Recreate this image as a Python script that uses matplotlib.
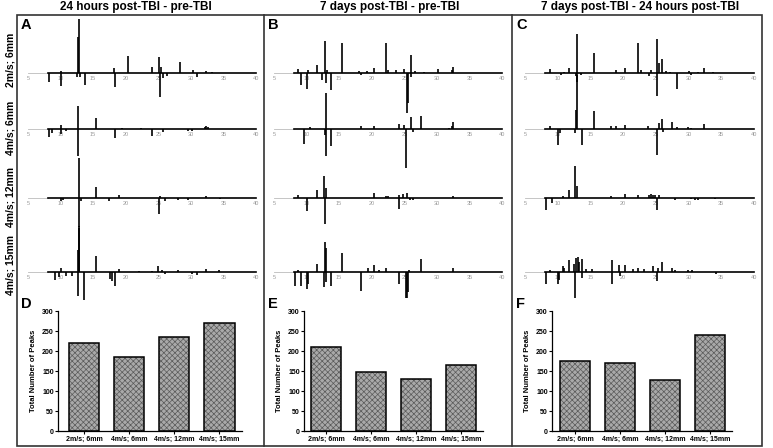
import matplotlib
matplotlib.use("Agg")
import matplotlib.pyplot as plt
from matplotlib.patches import Rectangle

plt.rcParams['font.family'] = ['Liberation Sans', 'DejaVu Sans']
plt.rcParams['hatch.linewidth'] = 0.5

# --- data ---------------------------------------------------------------
col_titles = ['24 hours post-TBI - pre-TBI', '7 days post-TBI - pre-TBI',
              '7 days post-TBI - 24 hours post-TBI']
conditions = ['2m/s; 6mm', '4m/s; 6mm', '4m/s; 12mm', '4m/s; 15mm']

# difference spectra: (position, intensity) pairs, arbitrary units
A_2ms6 = [(8.2, -9), (10.0, -13), (10.1, 2), (12.5, -4), (12.6, 36), (12.85, 54), (12.95, -4),
          (13.7, -12), (18.25, 5), (18.4, -14), (20.3, 17), (24.0, 6), (25.15, 16), (25.2, -24),
          (25.4, 6), (25.7, -5), (26.3, -3), (28.3, 11), (30.4, 3), (31.0, -4), (32.4, 2), (33.3, 1)]
A_4ms6 = [(8.2, -8), (8.7, -4), (10.1, 4), (10.0, -5), (10.8, -2), (12.6, 23), (12.6, -27),
          (15.5, 11), (18.4, -9), (19.5, 1), (22.3, 1), (24.0, -7), (25.7, -3), (29.6, -2),
          (30.2, -2), (32.2, 2), (32.4, 3), (32.6, 2)]
A_4ms12 = [(10.0, -3), (10.4, -2), (12.85, 40), (12.85, -29), (13.1, -3), (15.5, 11), (17.5, -3),
           (18.9, 3), (25.15, -16), (25.3, 2), (26.0, -3), (28.0, -2), (29.5, -2), (32.4, 2), (34.5, -1)]
A_4ms15 = [(9.15, -8), (9.7, -5), (10.0, 4), (10.9, -4), (11.7, -4), (12.6, 22), (12.6, -24),
           (12.8, 46), (12.9, 44), (13.6, -28), (15.5, 16), (17.6, -7), (17.9, -9), (18.4, -14),
           (18.9, 3), (22.0, 1), (24.1, 1), (25.0, 6), (25.5, 2), (26.0, -2), (28.0, 2), (30.1, -2),
           (31.0, -3), (32.4, 3), (34.3, 2)]

B_2ms6 = [(8.7, 4), (9.1, -12), (10.0, -16), (10.2, 3), (11.65, 8), (12.4, -7), (12.78, 32),
          (13.0, -10), (13.2, 3), (13.75, -17), (15.5, 30), (18.0, 2), (18.3, -2), (19.3, 2),
          (20.4, 5), (22.2, 30), (22.5, 3), (23.7, 3), (24.9, 4), (25.35, -40), (25.5, -30),
          (26.0, 18), (26.1, -4), (26.7, 2), (28.0, 1), (30.1, 4), (32.4, 3), (32.5, 6)]
B_4ms6 = [(9.6, -15), (10.5, 2), (12.8, -6), (13.0, 36), (13.0, -27), (13.75, -17), (18.3, 3),
          (20.4, 3), (24.2, 5), (25.0, 4), (25.2, -39), (26.0, 12), (26.3, -3), (27.5, 13),
          (31.8, 1), (32.3, 3), (32.5, 7)]
B_4ms12 = [(8.7, 3), (10.0, -13), (11.65, 8), (12.7, 22), (12.9, -26), (13.0, 10), (20.4, 5),
           (22.2, 2), (22.5, 2), (24.2, -11), (24.2, 3), (24.8, 4), (25.4, 5), (25.9, -2),
           (26.4, -2), (32.5, 2)]
B_4ms15 = [(8.2, -14), (8.7, 2), (9.1, -14), (10.0, -17), (10.2, -12), (11.65, 8), (12.7, -15),
           (12.8, 30), (13.0, 24), (13.0, -10), (13.75, -14), (15.5, 19), (18.3, -19), (19.5, 4),
           (20.4, 7), (21.1, 2), (22.2, 4), (24.2, -12), (25.2, -26), (25.4, -26), (25.6, -20),
           (25.8, 2), (27.5, 13), (32.5, 4)]

C_2ms6 = [(8.8, 4), (10.5, -2), (10.9, 1), (11.7, 5), (12.8, -3), (12.9, 39), (13.0, -9),
          (13.6, -2), (15.6, 20), (18.9, 3), (20.3, 5), (22.2, 30), (22.7, 3), (23.9, -3),
          (24.3, 3), (25.2, 34), (25.2, -23), (25.5, 10), (25.9, 14), (26.6, 2), (27.1, 1),
          (28.3, -16), (30.0, 2), (30.4, -2), (31.4, 1), (32.4, 5), (33.8, 1)]
C_4ms6 = [(8.8, 3), (10.0, -16), (10.3, -4), (12.6, -4), (12.85, 19), (12.9, 54), (13.67, -16),
          (15.6, 18), (18.2, 3), (18.9, 3), (20.3, 4), (23.75, 3), (25.1, -26), (25.5, 6),
          (25.9, 10), (26.1, -3), (27.4, 7), (28.2, 2), (29.9, 2), (30.3, 1), (32.4, 5)]
C_4ms12 = [(8.2, -12), (9.1, -5), (10.8, 2), (11.7, 8), (12.7, 32), (13.0, 12), (18.2, 2),
           (20.3, 4), (22.2, 3), (24.0, 3), (24.3, 4), (24.6, 3), (24.9, 3), (25.2, -12), (25.5, 3),
           (28.0, -2), (30.3, -1), (31.0, -2), (31.4, -2), (34.0, -1)]
C_4ms15 = [(8.2, -12), (8.8, 2), (10.0, -12), (10.2, -8), (10.8, 6), (11.0, 4), (11.7, 12),
           (12.5, 8), (12.7, -26), (12.8, 14), (13.05, 15), (13.3, 10), (13.7, 13), (13.75, -6),
           (14.3, 3), (15.3, 3), (18.25, 12), (18.25, -12), (19.4, 7), (19.5, -4), (20.3, 7),
           (21.5, 3), (22.2, 4), (23.2, 3), (24.5, 6), (25.2, -9), (25.3, 4), (25.9, 10),
           (27.5, 4), (28.0, 2), (29.9, 2), (30.6, 2), (34.2, -2)]

spectra = [[A_2ms6, A_4ms6, A_4ms12, A_4ms15],
           [B_2ms6, B_4ms6, B_4ms12, B_4ms15],
           [C_2ms6, C_4ms6, C_4ms12, C_4ms15]]

peaks_D = [220, 185, 236, 271]
peaks_E = [210, 148, 130, 164]
peaks_F = [175, 171, 128, 241]

# --- layout (pixels) ----------------------------------------------------
W, H = 773, 448
fig = plt.figure(figsize=(W / 100, H / 100), dpi=100)


def px_axes(l, t, r, b):
    return fig.add_axes([l / W, 1 - b / H, (r - l) / W, (b - t) / H])


def fx(x):
    return x / W


def fy(y):
    return 1 - y / H


# outer frame + dividers
fig.patches.append(Rectangle((fx(17), fy(446)), fx(762) - fx(17), fy(15) - fy(446),
                             transform=fig.transFigure, fill=False, ec='#333333', lw=1.2))
for xd in [264, 512]:
    fig.add_artist(plt.Line2D([fx(xd), fx(xd)], [fy(15), fy(446)], transform=fig.transFigure,
                              color='#333333', lw=1.2))

title_x = [136, 390, 640]
for t, x in zip(col_titles, title_x):
    fig.text(fx(x), fy(7), t, ha='center', va='center', fontsize=8.5, fontweight='bold')

for lab, x, y in zip('ABCDEF', [21, 268, 516, 21, 268, 516], [25, 25, 25, 304, 304, 304]):
    fig.text(fx(x), fy(y), lab, ha='left', va='center', fontsize=10.5, fontweight='bold')

row_y = [60, 128, 197, 265]
for lab, y in zip(conditions, row_y):
    fig.text(fx(11), fy(y), lab, rotation=90, ha='center', va='center',
             fontsize=7.5, fontweight='bold')

# spectra
col_x = [(28, 256), (274, 502), (525, 754)]
base_y = [73, 129, 198, 272]
for (x5, x40), col in zip(col_x, spectra):
    for y0, spec in zip(base_y, col):
        ax = px_axes(x5, y0 - 60, x40, y0 + 35)
        ax.set_xlim(5, 40)
        ax.set_ylim(-35, 60)
        ax.patch.set_alpha(0)
        for s in ['top', 'right', 'left']:
            ax.spines[s].set_visible(False)
        ax.spines['bottom'].set_position(('data', 0))
        ax.spines['bottom'].set_visible(False)
        ax.set_yticks([])
        ax.set_xticks(range(5, 41, 5))
        ax.tick_params(axis='x', length=0, pad=2, labelsize=4, labelcolor='#999999')
        ax.plot([5, 8], [0, 0], color='#bbbbbb', lw=0.6, clip_on=False)
        ax.plot([8, 40], [0, 0], color='black', lw=1.2, clip_on=False)
        pos = [p for p, h in spec]
        hts = [h for p, h in spec]
        ax.vlines(pos, 0, hts, color='black', lw=1.2, clip_on=False)

# bar charts
bar_boxes = [(58, 242, -0.585, 3.5, peaks_D),
             (304, 483, -0.5, 3.48, peaks_E),
             (552, 732, -0.51, 3.48, peaks_F)]
for l, r, x0, x1, vals in bar_boxes:
    ax = px_axes(l, 311, r, 431)
    xs = range(len(vals))
    ax.bar(xs, vals, width=0.667, color='#a9a9a9', hatch='xxxxxx', edgecolor='#5a5a5a', lw=0)
    ax.bar(xs, vals, width=0.667, fill=False, edgecolor='black', lw=1.1)
    ax.set_xlim(x0, x1)
    ax.set_ylim(0, 300)
    ax.set_yticks(range(0, 301, 50))
    ax.set_xticks(list(xs))
    ax.set_xticklabels(conditions, fontsize=5, fontweight='bold')
    for t in ax.get_yticklabels():
        t.set_fontweight('bold')
    ax.tick_params(axis='y', labelsize=5, length=2, width=0.8, pad=1)
    ax.tick_params(axis='x', length=2, width=0.8, pad=1.5)
    ax.spines['top'].set_visible(False)
    ax.spines['right'].set_visible(False)
    ax.spines['left'].set_linewidth(0.9)
    ax.spines['bottom'].set_linewidth(0.9)
    ax.set_ylabel('Total Number of Peaks', fontsize=5.5, fontweight='bold', labelpad=4)

fig.savefig('out.png', dpi=100)
